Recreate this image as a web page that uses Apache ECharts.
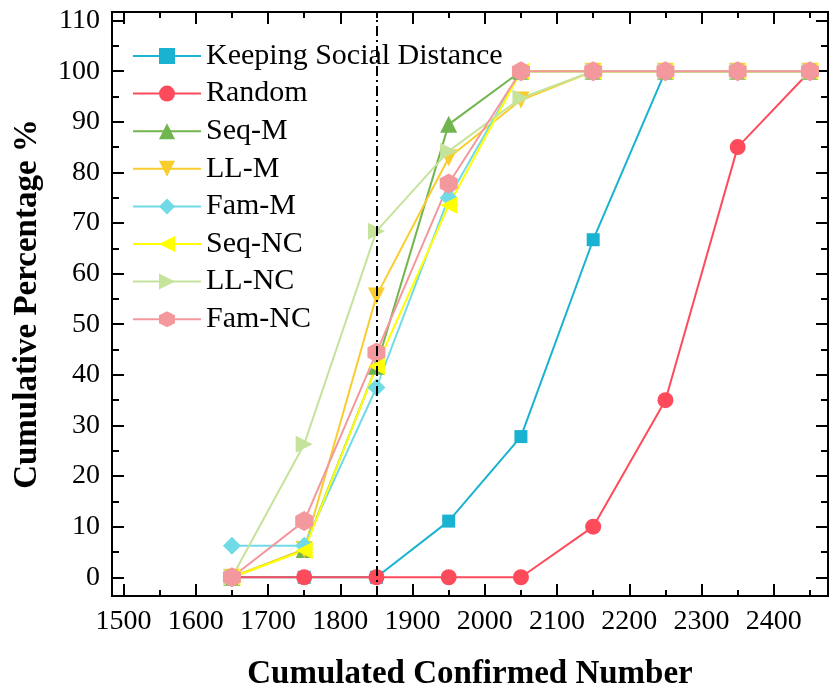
<!DOCTYPE html>
<html style="height: 100%">
<head>
    <meta charset="utf-8">
    <script src="https://cdn.jsdelivr.net/npm/echarts@6/dist/echarts.min.js"></script>
</head>
<body style="height: 100%; margin: 0">
    <div id="main" style="width:829px;height:691px;"></div>
    <script type="text/javascript">
    // data
    var xValues = [1650, 1750, 1850, 1950, 2050, 2150, 2250, 2350, 2450];
    var ksd    = [0, 0, 0, 11.1, 27.8, 66.7, 100, 100, 100];
    var random = [0, 0, 0, 0, 0, 10, 35, 85, 100];
    var seqM   = [0, 5.5, 41.7, 89.5, 100, 100, 100, 100, 100];
    var llM    = [0, 5.5, 55.6, 82.9, 94.3, 100, 100, 100, 100];
    var famM   = [6.25, 6.25, 37.5, 75, 100, 100, 100, 100, 100];
    var seqNC  = [0, 5.3, 41.7, 73.5, 100, 100, 100, 100, 100];
    var llNC   = [0, 26.3, 68.4, 84.2, 94.7, 100, 100, 100, 100];
    var famNC  = [0, 11.1, 44.4, 77.8, 100, 100, 100, 100, 100];

    var xMajor = [1500, 1600, 1700, 1800, 1900, 2000, 2100, 2200, 2300, 2400];
    var xMinor = [1550, 1650, 1750, 1850, 1950, 2050, 2150, 2250, 2350, 2450];
    var yMajor = [0, 10, 20, 30, 40, 50, 60, 70, 80, 90, 100, 110];
    var yMinor = [5, 15, 25, 35, 45, 55, 65, 75, 85, 95, 105];

    var cutLine = 1850;
    var serif = 'Liberation Serif';

    function pairs(ys) {
        return xValues.map(function (x, i) { return [x, ys[i]]; });
    }

    var myChart = echarts.init(document.getElementById('main'));

    var xMin = 1484, xMax = 2475, yMin = -3.7, yMax = 111.7;
    var plain = function (v) { return String(v); };

    function xAx(pos, ticks, len, labels, name) {
        return {
            type: 'value', position: pos, min: xMin, max: xMax,
            name: name || '', nameLocation: 'middle', nameGap: 62,
            nameTextStyle: { fontFamily: serif, fontWeight: 'bold', fontSize: 33, color: '#000' },
            axisLine: { show: true, onZero: false, lineStyle: { color: '#000', width: 2 } },
            axisTick: { show: true, inside: true, length: len, customValues: ticks, lineStyle: { color: '#000', width: 2 } },
            axisLabel: labels ? { show: true, customValues: ticks, formatter: plain, margin: 12, fontFamily: serif, fontSize: 28, color: '#000' } : { show: false },
            splitLine: { show: false }
        };
    }
    function yAx(pos, ticks, len, labels, name) {
        return {
            type: 'value', position: pos, min: yMin, max: yMax,
            name: name || '', nameLocation: 'middle', nameGap: 68,
            nameTextStyle: { fontFamily: serif, fontWeight: 'bold', fontSize: 33, color: '#000' },
            axisLine: { show: true, onZero: false, lineStyle: { color: '#000', width: 2 } },
            axisTick: { show: true, inside: true, length: len, customValues: ticks, lineStyle: { color: '#000', width: 2 } },
            axisLabel: labels ? { show: true, customValues: ticks, formatter: plain, margin: 12, fontFamily: serif, fontSize: 28, color: '#000' } : { show: false },
            splitLine: { show: false }
        };
    }

    var hexagon = 'path://M0,-10 L8.66,-5 L8.66,5 L0,10 L-8.66,5 L-8.66,-5 Z';

    function line(name, ys, color, symbol, size, rotate) {
        return {
            name: name, type: 'line', data: pairs(ys),
            xAxisIndex: 0, yAxisIndex: 0,
            symbol: symbol, symbolSize: size, symbolRotate: rotate || 0,
            showAllSymbol: true,
            lineStyle: { color: color, width: 2 },
            itemStyle: { color: color },
            animation: false
        };
    }

    var series = [
        line('Keeping Social Distance', ksd, '#19b3d1', 'rect', 13),
        line('Random', random, '#fe4b5b', 'circle', 16),
        line('Seq-M', seqM, '#71b54e', 'triangle', 17),
        line('LL-M', llM, '#f9cd2e', 'triangle', 17, 180),
        line('Fam-M', famM, '#70dbe6', 'diamond', 18),
        line('Seq-NC', seqNC, '#ffff00', 'triangle', 17, 90),
        line('LL-NC', llNC, '#c6e39c', 'triangle', 17, -90),
        line('Fam-NC', famNC, '#f3989d', hexagon, [18, 20])
    ];
    series[0].markLine = {
        silent: true, symbol: 'none', label: { show: false },
        lineStyle: { color: '#000', width: 2, type: [10, 4, 2, 4] },
        data: [{ xAxis: cutLine }]
    };

    var option = {
        animation: false,
        grid: { left: 112, top: 12, right: 1, bottom: 95, containLabel: false, outerBoundsMode: 'none' },
        legend: {
            orient: 'vertical', left: 132, top: 41, padding: 0,
            itemWidth: 68, itemHeight: 20, itemGap: 7.6, itemTextGap: 8,
            textStyle: { fontFamily: serif, fontSize: 30, color: '#000', lineHeight: 30 },
            data: series.map(function (s) { return s.name; })
        },
        xAxis: [
            xAx('bottom', xMajor, 12, true, 'Cumulated Confirmed Number'),
            xAx('bottom', xMinor, 6, false),
            xAx('top', xMajor, 12, false),
            xAx('top', xMinor, 6, false)
        ],
        yAxis: [
            yAx('left', yMajor, 12, true, 'Cumulative Percentage %'),
            yAx('left', yMinor, 7, false),
            yAx('right', yMajor, 12, false),
            yAx('right', yMinor, 7, false)
        ],
        series: series
    };

    option && myChart.setOption(option);
    </script>
</body>
</html>
